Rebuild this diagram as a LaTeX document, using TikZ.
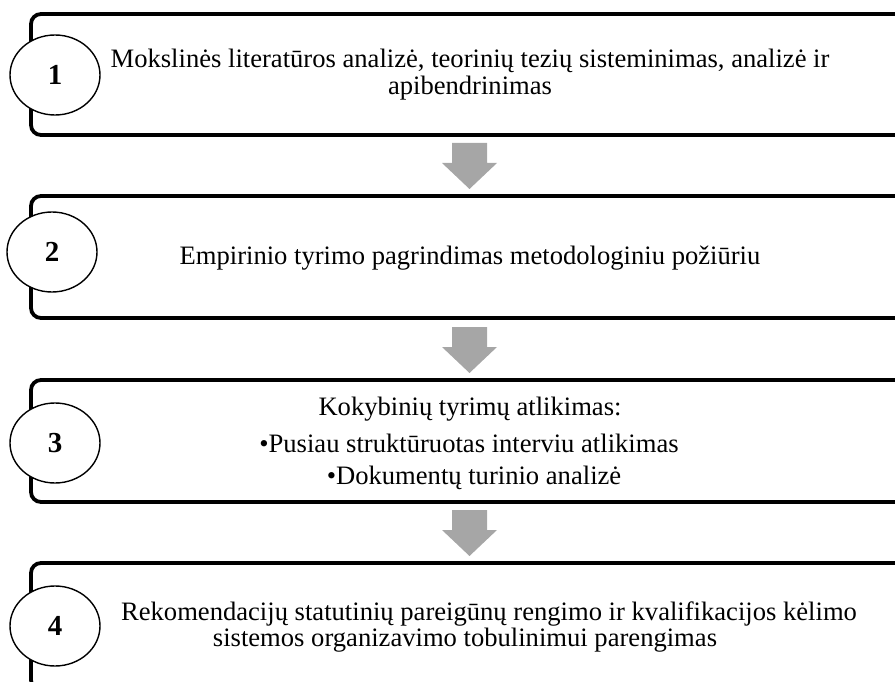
\documentclass[tikz,border=0pt]{standalone}
\usepackage{fontspec}
\setmainfont{Liberation Serif}
\usetikzlibrary{shapes.geometric,calc}
\definecolor{arrowgray}{HTML}{A6A6A6}
\tikzset{
  boxnode/.style={rectangle,draw=none,inner sep=0pt,outer sep=0pt,minimum width=869pt},
  boxline/.style={line width=3.8pt,rounded corners=10pt},
  numcircle/.style={ellipse,draw,fill=white,line width=1.4pt,minimum width=90pt,minimum height=80pt,inner sep=0pt,font=\fontsize{29}{30}\selectfont\bfseries},
  txt/.style={anchor=base,inner sep=0pt,font=\fontsize{26.6}{28}\selectfont},
  blockarrow/.style={fill=arrowgray,draw=none}
}
\newcommand\downblock[1]{%
  \fill[blockarrow] ($(#1)+(-17.5,0)$) -- ($(#1)+(17.5,0)$) -- ($(#1)+(17.5,20)$) -- ($(#1)+(27.5,20)$) -- ($(#1)+(0,46)$) -- ($(#1)+(-27.5,20)$) -- ($(#1)+(-17.5,20)$) -- cycle;}
\begin{document}
\begin{tikzpicture}[x=1pt,y=-1pt]
\useasboundingbox (0,0) rectangle (895,682);
% boxes
\node[boxnode,minimum height=121pt] (b1) at (465.5,74.5) {};
\node[boxnode,minimum height=122pt] (b2) at (465.5,257) {};
\node[boxnode,minimum height=122pt] (b3) at (465.5,441) {};
\node[boxnode,minimum height=127pt] (b4) at (465.5,626.5) {};
\foreach \b in {b1,b2,b3,b4}{
  \draw[boxline] (\b.north east) -- (\b.north west) -- (\b.south west) -- (\b.south east);
}
% arrows
\coordinate (a1) at (469.5,143);
\coordinate (a2) at (469.5,327);
\coordinate (a3) at (469.5,510);
\downblock{a1}
\downblock{a2}
\downblock{a3}
% circles
\node[numcircle] (c1) at (55,75) {1};
\node[numcircle] (c2) at (52,252) {2};
\node[numcircle] (c3) at (55,443) {3};
\node[numcircle] (c4) at (55,626) {4};
% texts
\node[txt] (t1a) at (470,68) {Mokslinės literatūros analizė, teorinių tezių sisteminimas, analizė ir};
\node[txt] (t1b) at (470,95) {apibendrinimas};
\node[txt] (t2) at (470,265) {Empirinio tyrimo pagrindimas metodologiniu požiūriu};
\node[txt] (t3a) at (470,415) {Kokybinių tyrimų atlikimas:};
\node[txt] (t3b) at (469,452) {•Pusiau struktūruotas interviu atlikimas};
\node[txt] (t3c) at (474,484) {•Dokumentų turinio analizė};
\node[txt] (t4a) at (489,620) {Rekomendacijų statutinių pareigūnų rengimo ir kvalifikacijos kėlimo};
\node[txt] (t4b) at (465,646) {sistemos organizavimo tobulinimui parengimas};
\end{tikzpicture}
\end{document}
